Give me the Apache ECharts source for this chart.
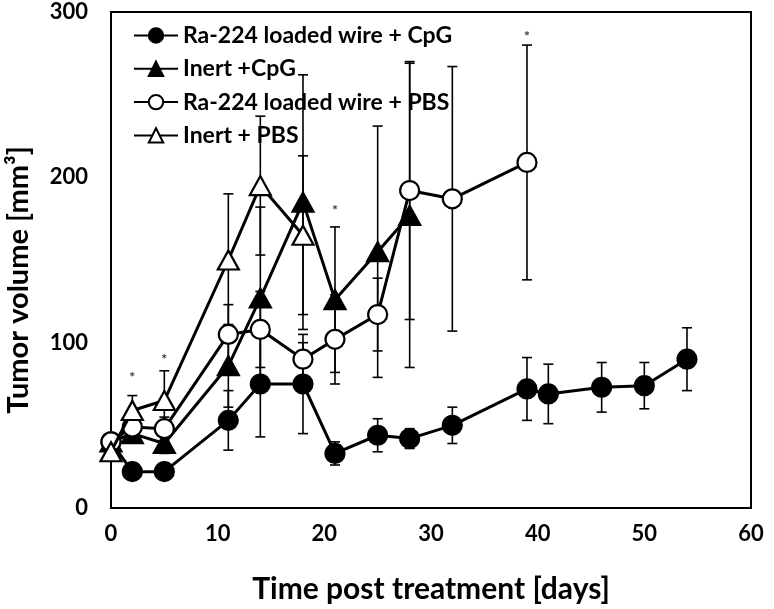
<!DOCTYPE html>
<html>
<head>
<meta charset="utf-8">
<script src="https://cdn.jsdelivr.net/npm/echarts@6/dist/echarts.min.js"></script>
<style>html,body{margin:0;padding:0;background:#fff;}#c{width:774px;height:609px;}</style>
</head>
<body>
<div id="c"></div>
<script>
// ---- data ----
var seriesNames = ['Ra-224 loaded wire + CpG', 'Inert +CpG', 'Ra-224 loaded wire + PBS', 'Inert + PBS'];

var daysRaCpG = [0, 2, 5, 11, 14, 18, 21, 25, 28, 32, 39, 41, 46, 50, 54];
var volRaCpG  = [40, 22, 22, 53, 75, 75, 33, 44, 42, 50, 72, 69, 73, 74, 90];
var errRaCpG  = [0, 2, 2, 18, 32, 30, 7, 10, 6, 11, 19, 18, 15, 14, 19];

var daysInCpG = [0, 2, 5, 11, 14, 18, 21, 25, 28];
var volInCpG  = [40, 45, 39, 86, 127, 185, 126, 155, 177];
var errInCpG  = [0, 4, 6, 25, 55, 77, 44, 76, 92];

var daysRaPBS = [0, 2, 5, 11, 14, 18, 21, 25, 28, 32, 39];
var volRaPBS  = [40, 49, 48, 105, 108, 90, 102, 117, 192, 187, 209];
var errRaPBS  = [0, 5, 7, 18, 23, 10, 27, 22, 78, 80, 71];

var daysInPBS = [0, 2, 5, 11, 14, 18];
var volInPBS  = [34, 59, 65, 150, 195, 165];
var errInPBS  = [0, 9, 18, 40, 42, 48];

var starDays = [2, 5, 21, 39];
var starVals = [79, 90, 180, 285];

var xTicks = [0, 10, 20, 30, 40, 50, 60];
var yTicks = [0, 100, 200, 300];

// ---- build ----
function pts(d, v) { return d.map(function (x, i) { return [x, v[i]]; }); }
function errs(d, v, e) {
  var out = [];
  d.forEach(function (x, i) { if (e[i] > 0) out.push([x, v[i] - e[i], v[i] + e[i]]); });
  return out;
}
function errRender(params, api) {
  var x = api.value(0), lo = api.value(1), hi = api.value(2);
  var a = api.coord([x, hi]), b = api.coord([x, lo]);
  var hw = 5, st = { stroke: '#000', lineWidth: 1.6 };
  return { type: 'group', children: [
    { type: 'line', shape: { x1: a[0], y1: a[1], x2: b[0], y2: b[1] }, style: st },
    { type: 'line', shape: { x1: a[0] - hw, y1: a[1], x2: a[0] + hw, y2: a[1] }, style: st },
    { type: 'line', shape: { x1: b[0] - hw, y1: b[1], x2: b[0] + hw, y2: b[1] }, style: st }
  ]};
}
var FONT = 'Lato';
var groups = [
  { d: daysRaCpG, v: volRaCpG, e: errRaCpG, sym: 'circle', size: 19, fill: '#000' },
  { d: daysInCpG, v: volInCpG, e: errInCpG, sym: 'triangle', size: [21, 19], fill: '#000' },
  { d: daysRaPBS, v: volRaPBS, e: errRaPBS, sym: 'circle', size: 19, fill: '#fff' },
  { d: daysInPBS, v: volInPBS, e: errInPBS, sym: 'triangle', size: [21, 19], fill: '#fff' }
];
var series = [];
groups.forEach(function (g, i) {
  series.push({
    type: 'custom', name: seriesNames[i] + ' err', renderItem: errRender,
    data: errs(g.d, g.v, g.e), z: 1, silent: true
  });
});
groups.forEach(function (g, i) {
  series.push({
    type: 'line', name: seriesNames[i], data: pts(g.d, g.v), z: 2 + i,
    symbol: g.sym, symbolSize: g.size, showAllSymbol: true,
    lineStyle: { color: '#000', width: 3 },
    itemStyle: { color: g.fill, borderColor: '#000', borderWidth: 2.2 }
  });
});
series.push({
  type: 'scatter', name: 'sig', data: pts(starDays, starVals), symbolSize: 0, z: 10,
  label: { show: true, position: 'inside', formatter: '*', color: '#000', fontSize: 14, fontWeight: 'bold', fontFamily: FONT }
});

var chart = echarts.init(document.getElementById('c'));
chart.setOption({
  animation: false,
  backgroundColor: '#fff',
  grid: { left: 111, right: 23, top: 12, bottom: 85, show: true, borderColor: '#000', borderWidth: 2, backgroundColor: 'transparent' },
  legend: {
    data: seriesNames, orient: 'vertical', left: 133, top: 24, padding: 0,
    itemWidth: 44, itemHeight: 18, itemGap: 10.3,
    textStyle: { fontFamily: FONT, fontWeight: 'bold', fontSize: 23, color: '#000' }
  },
  xAxis: {
    type: 'value', min: xTicks[0], max: xTicks[xTicks.length - 1], interval: 10,
    name: 'Time post treatment [days]', nameLocation: 'middle', nameGap: 66,
    nameTextStyle: { fontFamily: FONT, fontWeight: 'bold', fontSize: 30, color: '#000' },
    axisLine: { show: true, lineStyle: { color: '#000', width: 2 } },
    axisTick: { show: false }, splitLine: { show: false },
    axisLabel: { margin: 15, fontFamily: FONT, fontWeight: 'bold', fontSize: 22, color: '#000' }
  },
  yAxis: {
    type: 'value', min: yTicks[0], max: yTicks[yTicks.length - 1], interval: 100,
    axisLine: { show: true, lineStyle: { color: '#000', width: 2 } },
    axisTick: { show: false }, splitLine: { show: false },
    axisLabel: { margin: 23, fontFamily: FONT, fontWeight: 'bold', fontSize: 22, color: '#000' }
  },
  graphic: [{
    type: 'text', x: 19, y: 280, rotation: Math.PI / 2,
    style: { text: 'Tumor volume [mm³]', fontFamily: FONT, fontWeight: 'bold', fontSize: 29, fill: '#000', align: 'center', verticalAlign: 'middle' }
  }],
  series: series
});
</script>
</body>
</html>
